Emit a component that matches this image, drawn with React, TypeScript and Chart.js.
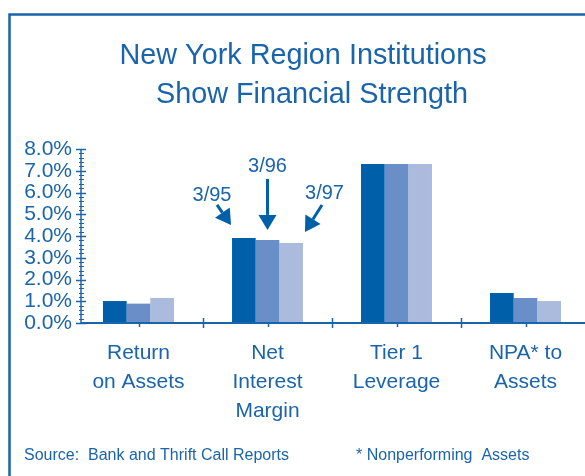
import { useEffect, useRef } from 'react';
import { Chart, registerables } from 'chart.js';

Chart.register(...registerables);

// ---------- data ----------
const categories: string[][] = [
  ['Return', 'on Assets'],
  ['Net', 'Interest', 'Margin'],
  ['Tier 1', 'Leverage'],
  ['NPA* to', 'Assets'],
];
const periods = ['3/95', '3/96', '3/97'];
const values95 = [1.01, 3.91, 7.31, 1.38];
const values96 = [0.89, 3.82, 7.31, 1.15];
const values97 = [1.15, 3.68, 7.31, 1.01];
const yTickValues = [0, 1, 2, 3, 4, 5, 6, 7, 8];
const titleLines = ['New York Region Institutions', 'Show Financial Strength'];
const sourceNote = 'Source:  Bank and Thrift Call Reports';
const footNote = '* Nonperforming  Assets';

// ---------- styles ----------
const BLUE = '#1a64ac';
const BAR_COLORS = ['#005fa9', '#6a8ec7', '#abbbdd'];
const FONT = '"Liberation Sans", Arial, Helvetica, sans-serif';

function drawArrow(ctx: CanvasRenderingContext2D, x1: number, y1: number, x2: number, y2: number) {
  const ang = Math.atan2(y2 - y1, x2 - x1);
  const headLen = 15;
  const headW = 9;
  const bx = x2 - headLen * Math.cos(ang);
  const by = y2 - headLen * Math.sin(ang);
  ctx.lineWidth = 3;
  ctx.beginPath();
  ctx.moveTo(x1, y1);
  ctx.lineTo(bx, by);
  ctx.stroke();
  ctx.beginPath();
  ctx.moveTo(x2, y2);
  ctx.lineTo(bx + headW * Math.sin(ang), by - headW * Math.cos(ang));
  ctx.lineTo(bx - headW * Math.sin(ang), by + headW * Math.cos(ang));
  ctx.closePath();
  ctx.fill();
}

const decorPlugin = {
  id: 'decor',
  afterDraw(chart: any) {
    const { ctx, chartArea, scales } = chart;
    const xs = scales.x;
    const ys = scales.y;
    ctx.save();

    // frame
    ctx.strokeStyle = BLUE;
    ctx.lineWidth = 2.5;
    ctx.beginPath();
    ctx.moveTo(9.5, chart.height + 5);
    ctx.lineTo(9.5, 14.5);
    ctx.lineTo(chart.width + 5, 14.5);
    ctx.stroke();

    // title
    ctx.fillStyle = BLUE;
    ctx.font = `28.8px ${FONT}`;
    ctx.textAlign = 'center';
    ctx.textBaseline = 'alphabetic';
    ctx.fillText(titleLines[0], 303, 64);
    ctx.fillText(titleLines[1], 312, 103);

    // footer
    ctx.font = `16px ${FONT}`;
    ctx.textAlign = 'left';
    ctx.fillText(sourceNote, 24, 460);
    ctx.fillText(footNote, 356, 460);

    // y axis line + ticks
    const axisX = chartArea.left + 7;
    const y0 = ys.getPixelForValue(0);
    const yTop = ys.getPixelForValue(yTickValues[yTickValues.length - 1]);
    ctx.strokeStyle = BLUE;
    ctx.lineWidth = 1.5;
    ctx.beginPath();
    ctx.moveTo(axisX, yTop);
    ctx.lineTo(axisX, y0);
    ctx.stroke();
    for (let i = 0; i < yTickValues.length; i++) {
      const p = Math.round(ys.getPixelForValue(yTickValues[i])) + 0.5;
      ctx.lineWidth = 1.5;
      ctx.beginPath();
      ctx.moveTo(axisX - 5, p);
      ctx.lineTo(axisX + 5, p);
      ctx.stroke();
      if (i < yTickValues.length - 1) {
        for (let k = 1; k < 5; k++) {
          const v = yTickValues[i] + (k * (yTickValues[i + 1] - yTickValues[i])) / 5;
          const q = Math.round(ys.getPixelForValue(v)) + 0.5;
          ctx.lineWidth = 1;
          ctx.beginPath();
          ctx.moveTo(axisX - 2, q);
          ctx.lineTo(axisX + 3, q);
          ctx.stroke();
        }
      }
    }

    // x axis line + ticks
    ctx.lineWidth = 2;
    ctx.beginPath();
    ctx.moveTo(axisX, y0);
    ctx.lineTo(chart.width, y0);
    ctx.stroke();
    ctx.lineWidth = 1.5;
    for (let i = 0; i < categories.length - 1; i++) {
      const p = Math.round((xs.getPixelForTick(i) + xs.getPixelForTick(i + 1)) / 2) + 0.5;
      ctx.beginPath();
      ctx.moveTo(p, y0 - 5);
      ctx.lineTo(p, y0 + 5);
      ctx.stroke();
    }
    for (let i = 0; i < categories.length; i++) {
      const p = Math.round(xs.getPixelForTick(i)) + 0.5;
      ctx.beginPath();
      ctx.moveTo(p, y0);
      ctx.lineTo(p, y0 + 4);
      ctx.stroke();
    }

    // period annotations on the Net Interest Margin group
    ctx.fillStyle = BAR_COLORS[0];
    ctx.strokeStyle = BAR_COLORS[0];
    const bars = [0, 1, 2].map((d) => (chart.getDatasetMeta(d).data[1] as any).getProps(['x', 'y', 'width'], true));
    const anchors = [
      { ax: bars[0].x - bars[0].width / 2, ay: bars[0].y },
      { ax: bars[1].x, ay: bars[1].y },
      { ax: bars[2].x + bars[2].width / 2, ay: bars[2].y },
    ];
    const tipOff = [[-1, -13], [0, -10], [2, -11]];
    const tailOff = [[-14, -20], [0, -51], [17, -27]];
    const labelOff = [[-19, -29], [0, -63], [19.5, -38.5]];
    ctx.font = `20px ${FONT}`;
    ctx.textAlign = 'center';
    ctx.textBaseline = 'middle';
    for (let i = 0; i < periods.length; i++) {
      const tx = anchors[i].ax + tipOff[i][0];
      const ty = anchors[i].ay + tipOff[i][1];
      drawArrow(ctx, tx + tailOff[i][0], ty + tailOff[i][1], tx, ty);
      ctx.fillStyle = BLUE;
      ctx.fillText(periods[i], tx + labelOff[i][0], ty + labelOff[i][1]);
      ctx.fillStyle = BAR_COLORS[0];
    }
    ctx.restore();
  },
};

export default function App() {
  const canvasRef = useRef<HTMLCanvasElement | null>(null);

  useEffect(() => {
    if (!canvasRef.current) return;
    Chart.defaults.font.family = FONT;
    const chart = new Chart(canvasRef.current, {
      type: 'bar',
      data: {
        labels: categories,
        datasets: [
          { label: periods[0], data: values95, backgroundColor: BAR_COLORS[0] },
          { label: periods[1], data: values96, backgroundColor: BAR_COLORS[1] },
          { label: periods[2], data: values97, backgroundColor: BAR_COLORS[2] },
        ],
      },
      options: {
        responsive: false,
        animation: false,
        events: [],
        layout: { padding: { top: 149, right: 10, bottom: 0, left: 0 } },
        datasets: { bar: { barPercentage: 1, categoryPercentage: 0.55 } },
        plugins: { legend: { display: false }, tooltip: { enabled: false }, title: { display: false } },
        scales: {
          x: {
            grid: { display: false, drawTicks: false },
            border: { display: false },
            ticks: {
              color: BLUE,
              font: { size: 21, lineHeight: 1.38 },
              padding: 15.5,
              maxRotation: 0,
              autoSkip: false,
            },
            afterFit: (s: any) => {
              s.height = 153;
            },
          },
          y: {
            min: 0,
            max: 8,
            grid: { display: false, drawTicks: false },
            border: { display: false },
            afterBuildTicks: (s: any) => {
              s.ticks = yTickValues.map((v) => ({ value: v }));
            },
            ticks: {
              color: BLUE,
              font: { size: 21 },
              padding: 2,
              autoSkip: false,
              callback: (v: any) => Number(v).toFixed(1) + '%',
            },
            afterFit: (s: any) => {
              s.width = 74;
            },
          },
        },
      },
      plugins: [decorPlugin],
    });
    return () => chart.destroy();
  }, []);

  return (
    <div style={{ position: 'absolute', left: 0, top: 0, width: 585, height: 476, overflow: 'hidden', background: '#fff' }}>
      <canvas ref={canvasRef} width={600} height={476} style={{ display: 'block' }} />
    </div>
  );
}
